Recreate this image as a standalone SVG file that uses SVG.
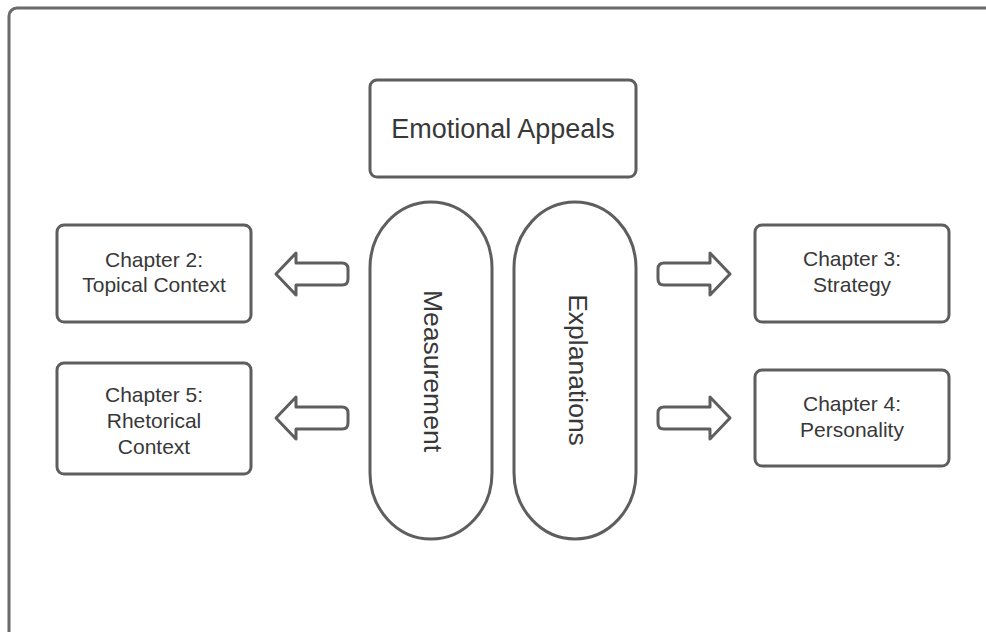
<svg xmlns="http://www.w3.org/2000/svg" width="986" height="632" viewBox="0 0 986 632">
<style>
.box{fill:#fff;stroke:#5e5e5e;stroke-width:3}
.frame{fill:#fff;stroke:#6a6a6a;stroke-width:3}
.arr{fill:#fff;stroke:#5e5e5e;stroke-width:3;stroke-linejoin:round}
text{font-family:"Liberation Sans",Arial,sans-serif;fill:#383838;text-anchor:middle}
.big{font-size:26.5px}
.title{font-size:27px}
.mid{font-size:21px}
</style>
<rect class="frame" x="9" y="8" width="1000" height="650" rx="8"/>
<g id="emotional-appeals">
<rect class="box" x="370" y="80" width="266" height="97" rx="7"/>
<text class="title" x="503" y="138">Emotional Appeals</text>
</g>
<g id="chapter2">
<rect class="box" x="57" y="225" width="194" height="97" rx="7"/>
<text class="mid" x="154" y="267">Chapter 2:</text>
<text class="mid" x="154" y="292">Topical Context</text>
</g>
<g id="chapter5">
<rect class="box" x="57" y="363" width="194" height="111" rx="7"/>
<text class="mid" x="154" y="402">Chapter 5:</text>
<text class="mid" x="154" y="428">Rhetorical</text>
<text class="mid" x="154" y="454">Context</text>
</g>
<g id="chapter3">
<rect class="box" x="755" y="225" width="194" height="97" rx="7"/>
<text class="mid" x="852" y="266">Chapter 3:</text>
<text class="mid" x="852" y="292">Strategy</text>
</g>
<g id="chapter4">
<rect class="box" x="755" y="370" width="194" height="96" rx="7"/>
<text class="mid" x="852" y="411">Chapter 4:</text>
<text class="mid" x="852" y="437">Personality</text>
</g>
<g id="measurement">
<path class="box" d="M370 268 A61 66 0 0 1 492 268 L492 473 A61 66 0 0 1 370 473 Z"/>
<text class="big" transform="translate(433,371) rotate(90)" x="0" y="9">Measurement</text>
</g>
<g id="explanations">
<path class="box" d="M514 268 A61 66 0 0 1 636 268 L636 473 A61 66 0 0 1 514 473 Z"/>
<text class="big" transform="translate(578,370) rotate(90)" x="0" y="9">Explanations</text>
</g>
<g id="connectors">
<path class="arr" d="M276 274 L296 253 L296 263 L342 263 Q348 263 348 269 L348 279 Q348 285 342 285 L296 285 L296 295 Z"/>
<path class="arr" d="M276 418 L296 397 L296 407 L342 407 Q348 407 348 413 L348 423 Q348 429 342 429 L296 429 L296 439 Z"/>
<path class="arr" d="M730 274 L710 253 L710 263 L664 263 Q658 263 658 269 L658 279 Q658 285 664 285 L710 285 L710 295 Z"/>
<path class="arr" d="M730 418 L710 397 L710 407 L664 407 Q658 407 658 413 L658 423 Q658 429 664 429 L710 429 L710 439 Z"/>
</g>
</svg>
